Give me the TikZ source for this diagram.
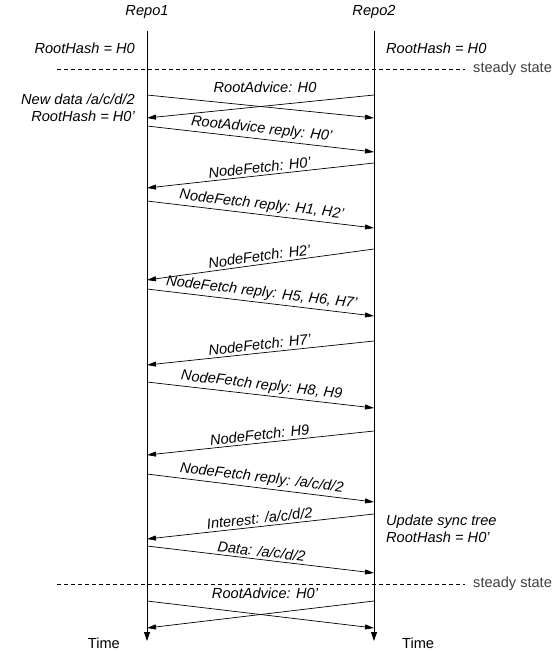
\documentclass[tikz,border=0pt]{standalone}
\usepackage{fontspec}
\setmainfont{Liberation Sans}
\usetikzlibrary{arrows.meta}

\begin{document}
\begin{tikzpicture}[x=1pt,y=-1pt,
  every node/.style={font=\fontsize{14.6}{17}\selectfont, inner sep=1pt},
  lifeline/.style={line width=0.9pt, -{Triangle[length=9pt,width=6pt]}},
  msgarrow/.style={line width=0.7pt, -{Triangle[length=9pt,width=5pt]}},
  msglabel/.style={font=\fontsize{14.6}{17}\selectfont\itshape, sloped, above, inner sep=2.5pt},
  statetext/.style={font=\fontsize{14.6}{17}\selectfont\itshape},
  steady/.style={line width=0.7pt, dash pattern=on 4pt off 3pt}]

% --- PARAMETERS ---
\def\xL{147}            % Repo1 lifeline x
\def\xR{374}            % Repo2 lifeline x
\def\yTop{31}           % top of lifelines
\def\yEnd{641}          % tip of lifelines
\useasboundingbox (0,0) rectangle (555,651);

% --- LIFELINES ---
\node (repoA) at (\xL,12) {\itshape Repo1};
\node (repoB) at (\xR,12) {\itshape Repo2};
\coordinate (topA) at (\xL,\yTop);
\coordinate (topB) at (\xR,\yTop);
\coordinate (endA) at (\xL,\yEnd);
\coordinate (endB) at (\xR,\yEnd);
\draw[lifeline] (topA) -- (endA);
\draw[lifeline] (topB) -- (endB);
\node[anchor=east] (timeA) at (\xL-26,643) {Time};
\node[anchor=west] (timeB) at (\xR+27,643) {Time};

% --- STATES ---
\node[statetext, anchor=east] (hashA) at (\xL-11,48) {RootHash = H0};
\node[statetext, anchor=west] (hashB) at (\xR+11,48) {RootHash = H0};
\node[statetext, anchor=east, align=right] (newA) at (\xL-11,108)
  {New data /a/c/d/2\\RootHash = H0'};
\node[statetext, anchor=west, align=left] (updB) at (\xR+11,529)
  {Update sync tree\\RootHash = H0'};

% --- STEADY STATE MARKS ---
\foreach \y/\nm in {69/one,584/two} {
  \node[anchor=west, text=black!75] (st\nm) at (472,\y) {steady state};
  \coordinate (dl\nm) at (57,\y);
  \coordinate (dr\nm) at (465,\y);
  \draw[steady] (dl\nm) -- (dr\nm);
}

% --- ROOT ADVICE (both ways) ---
\foreach \ya/\yb/\txt/\nm in {95/118/{RootAdvice: H0}/one,601/628/{RootAdvice: H0'}/two} {
  \coordinate (caS\nm) at (\xL,\ya);
  \coordinate (caE\nm) at (\xR,\yb);
  \coordinate (cbS\nm) at (\xR,\ya);
  \coordinate (cbE\nm) at (\xL,\yb);
  \draw[msgarrow] (caS\nm) -- (caE\nm);
  \draw[msgarrow] (cbS\nm) -- (cbE\nm);
  \node[statetext, anchor=south] (ca\nm) at (265,\ya-1) {\txt};
}

% --- MESSAGES (r = Repo1 to Repo2, l = Repo2 to Repo1) ---
\foreach [count=\i] \ya/\yb/\dir/\txt in {%
  126/152/r/{RootAdvice reply: H0'},%
  163/188/l/{NodeFetch: H0'},%
  201/228/r/{NodeFetch reply: H1, H2'},%
  249/280/l/{NodeFetch: H2'},%
  289/316/r/{NodeFetch reply: H5, H6, H7'},%
  341/365/l/{NodeFetch: H7'},%
  382/408/r/{NodeFetch reply: H8, H9},%
  431/455/l/{NodeFetch: H9},%
  474/502/r/{NodeFetch reply: /a/c/d/2},%
  514/539/l/{Interest: /a/c/d/2},%
  546/573/r/{Data: /a/c/d/2}%
} {
  \if\dir r
    \coordinate (m\i s) at (\xL,\ya);
    \coordinate (m\i e) at (\xR,\yb);
  \else
    \coordinate (m\i s) at (\xR,\ya);
    \coordinate (m\i e) at (\xL,\yb);
  \fi
  \draw[msgarrow] (m\i s) -- (m\i e) node[msglabel, midway] (lab\i) {\txt};
}

\end{tikzpicture}
\end{document}
